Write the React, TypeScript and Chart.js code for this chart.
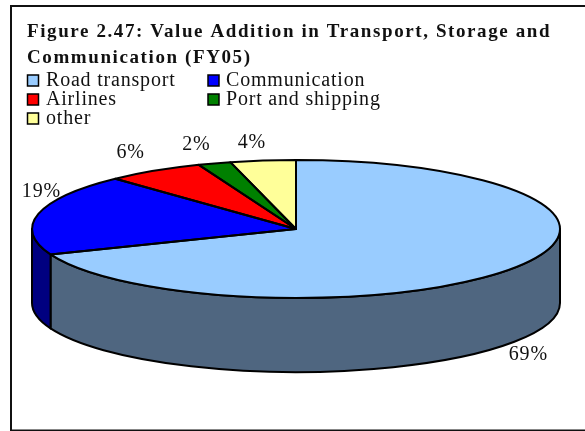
import React, { useEffect, useRef } from "react";
import { Chart, registerables } from "chart.js";

Chart.register(...registerables);

const titleLines = ["Figure 2.47: Value Addition in Transport, Storage and", "Communication (FY05)"];
const categories = ["Road transport", "Communication", "Airlines", "Port and shipping", "other"];
const shares = [69, 19, 6, 2, 4];
const topColors = ["#99CCFF", "#0000FF", "#FF0000", "#008000", "#FFFF99"];
const wallColors = ["#4F6680", "#000080", "#800000", "#004000", "#80804D"];

const SERIF = '"Liberation Serif", "Times New Roman", serif';
const CX = 296, CY = 229, RX = 264, RY = 69, DEPTH = 74;
const labelOffsets = [
  [14, 13],
  [3, -22],
  [-24, -18],
  [-18, -19],
  [-11, -18],
];

const pie3d = {
  id: "pie3d",
  beforeDraw(chart: any) {
    const ctx = chart.ctx;
    ctx.save();
    ctx.fillStyle = "#ffffff";
    ctx.fillRect(0, 0, chart.width, chart.height);
    ctx.strokeStyle = "#111111";
    ctx.lineWidth = 2;
    ctx.beginPath();
    ctx.moveTo(585, 6);
    ctx.lineTo(11, 6);
    ctx.lineTo(11, 430.5);
    ctx.lineTo(585, 430.5);
    ctx.stroke();
    ctx.restore();
    ctx.letterSpacing = "1.6px";
  },
  beforeDatasetDraw(chart: any) {
    const ctx = chart.ctx;
    ctx.letterSpacing = "0px";
    const arcs = chart.getDatasetMeta(0).data;
    // front wall of the disc
    ctx.save();
    ctx.lineWidth = 2;
    ctx.strokeStyle = "#000000";
    ctx.lineJoin = "round";
    arcs.forEach((arc: any, i: number) => {
      const s = Math.max(arc.startAngle, 0);
      const e = Math.min(arc.endAngle, Math.PI);
      if (e <= s) return;
      ctx.beginPath();
      ctx.ellipse(CX, CY, RX, RY, 0, s, e);
      ctx.lineTo(CX + RX * Math.cos(e), CY + DEPTH + RY * Math.sin(e));
      ctx.ellipse(CX, CY + DEPTH, RX, RY, 0, e, s, true);
      ctx.closePath();
      ctx.fillStyle = wallColors[i];
      ctx.fill();
      ctx.stroke();
    });
    ctx.restore();
    // top face: library's own arcs, flattened
    const a0 = arcs[0];
    ctx.save();
    ctx.translate(CX, CY);
    ctx.scale(1, RY / RX);
    ctx.translate(-a0.x, -a0.y);
  },
  afterDatasetDraw(chart: any) {
    const ctx = chart.ctx;
    ctx.restore();
    const arcs = chart.getDatasetMeta(0).data;
    ctx.save();
    ctx.lineWidth = 2;
    ctx.strokeStyle = "#000000";
    ctx.lineJoin = "round";
    arcs.forEach((arc: any) => {
      ctx.beginPath();
      ctx.moveTo(CX, CY);
      ctx.ellipse(CX, CY, RX, RY, 0, arc.startAngle, arc.endAngle);
      ctx.closePath();
      ctx.stroke();
    });
    ctx.restore();
  },
  afterDraw(chart: any) {
    const ctx = chart.ctx;
    const arcs = chart.getDatasetMeta(0).data;
    const values = chart.data.datasets[0].data;
    ctx.save();
    ctx.fillStyle = "#111111";
    ctx.letterSpacing = "0.8px";
    ctx.font = `20px ${SERIF}`;
    ctx.textBaseline = "alphabetic";
    ctx.textAlign = "left";
    // legend
    chart.data.labels.forEach((label: string, i: number) => {
      const col = i % 2;
      const row = Math.floor(i / 2);
      const bx = col === 0 ? 27.5 : 208;
      const by = 75 + row * 19;
      ctx.fillStyle = topColors[i];
      ctx.fillRect(bx, by, 11, 11);
      ctx.strokeStyle = "#000000";
      ctx.lineWidth = 1.5;
      ctx.strokeRect(bx, by, 11, 11);
      ctx.fillStyle = "#111111";
      ctx.fillText(label, col === 0 ? 46 : 226, 85.5 + row * 19);
    });
    // value labels
    ctx.textAlign = "center";
    ctx.textBaseline = "middle";
    arcs.forEach((arc: any, i: number) => {
      const mid = (arc.startAngle + arc.endAngle) / 2;
      const x = CX + RX * Math.cos(mid) + labelOffsets[i][0];
      const y = CY + RY * Math.sin(mid) + (Math.sin(mid) > 0 ? DEPTH : 0) + labelOffsets[i][1];
      ctx.fillText(`${values[i]}%`, x, y);
    });
    ctx.restore();
  },
};

export default function App() {
  const ref = useRef<HTMLCanvasElement>(null);
  useEffect(() => {
    const chart = new Chart(ref.current as HTMLCanvasElement, {
      type: "pie",
      data: {
        labels: categories,
        datasets: [
          {
            data: shares,
            backgroundColor: topColors,
            borderWidth: 0,
            clip: false,
          } as any,
        ],
      },
      options: {
        responsive: false,
        animation: false,
        radius: RX,
        layout: { padding: { left: 27, top: 19, right: 0, bottom: 0 } },
        plugins: {
          legend: { display: false },
          tooltip: { enabled: false },
          title: {
            display: true,
            text: titleLines,
            align: "start",
            color: "#111111",
            font: { family: SERIF, size: 19, weight: "bold", lineHeight: 26 / 19 },
            padding: 0,
          },
        },
      } as any,
      plugins: [pie3d],
    });
    return () => chart.destroy();
  }, []);
  return (
    <div style={{ position: "absolute", left: 0, top: 0, width: 585, height: 431 }}>
      <canvas ref={ref} width={585} height={431} style={{ display: "block" }} />
    </div>
  );
}
